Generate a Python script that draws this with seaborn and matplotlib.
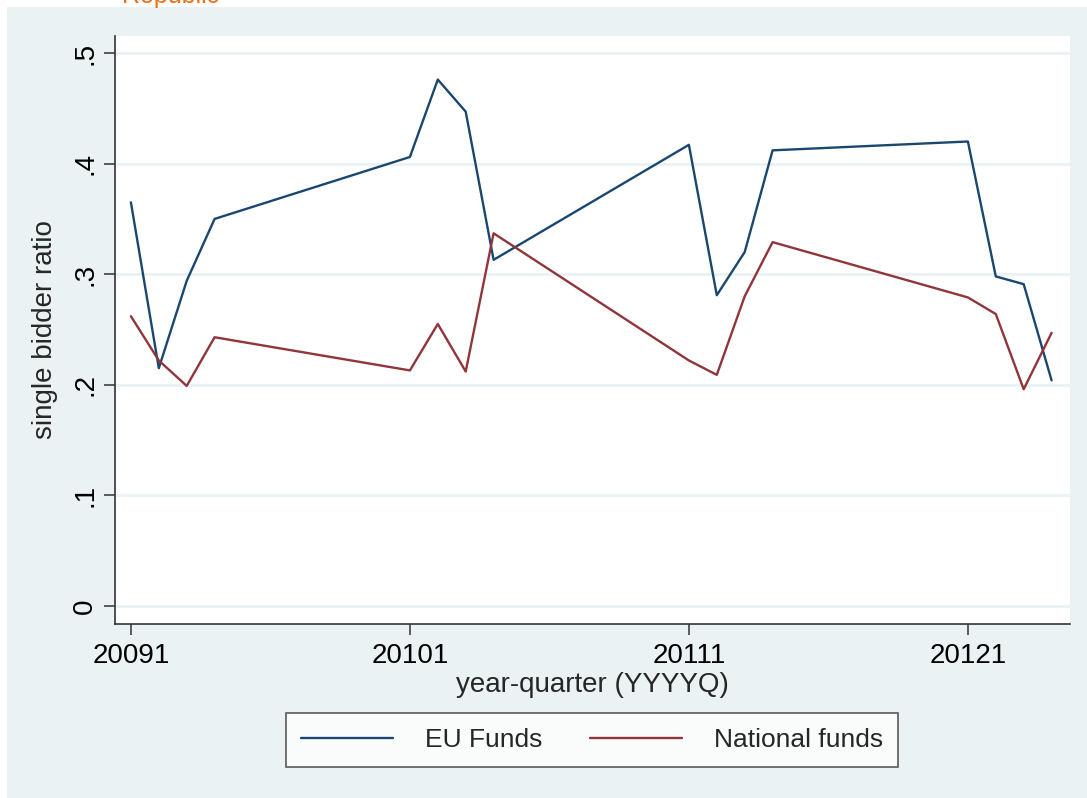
import matplotlib
matplotlib.use("Agg")
import matplotlib.pyplot as plt
import seaborn as sns
import pandas as pd
from matplotlib.patches import Rectangle

quarters = [20091, 20092, 20093, 20094, 20101, 20102, 20103, 20104,
            20111, 20112, 20113, 20114, 20121, 20122, 20123, 20124]
eu_funds = [0.365, 0.215, 0.294, 0.350, 0.406, 0.476, 0.447, 0.313,
            0.417, 0.281, 0.320, 0.412, 0.420, 0.298, 0.291, 0.204]
national_funds = [0.262, 0.222, 0.199, 0.243, 0.213, 0.255, 0.212, 0.337,
                  0.222, 0.209, 0.280, 0.329, 0.279, 0.264, 0.196, 0.247]
x_ticks = [20091, 20101, 20111, 20121]
y_ticks = [0, 0.1, 0.2, 0.3, 0.4, 0.5]
y_ticklabels = ["0", ".1", ".2", ".3", ".4", ".5"]

df = pd.DataFrame({
    "quarter": quarters * 2,
    "ratio": eu_funds + national_funds,
    "series": ["EU Funds"] * len(quarters) + ["National funds"] * len(quarters),
})

sns.set_theme(style="white")
plt.rcParams["font.family"] = ["Liberation Sans", "DejaVu Sans"]

bg = "#EAF2F3"
fig = plt.figure(figsize=(10.87, 7.98), dpi=100, facecolor="white")
fig.patches.append(Rectangle((7 / 1087, 0), 1 - 7 / 1087, 1 - 7 / 798,
                             transform=fig.transFigure, facecolor=bg,
                             edgecolor="none", zorder=-10))
fig.text(122 / 1087, 1 - 3 / 798, "Republic", color="#E8711A", fontsize=18,
         ha="left", va="baseline")

ax = fig.add_axes([115 / 1087, 1 - 624 / 798, (1070 - 115) / 1087, (624 - 36) / 798])
ax.set_facecolor("white")

sns.lineplot(data=df, x="quarter", y="ratio", hue="series",
             palette={"EU Funds": "#1A476F", "National funds": "#90353B"},
             linewidth=1.7, ax=ax, legend=True)

ax.set_xlim(20090.43, 20124.66)
ax.set_ylim(-0.0163, 0.5154)
ax.set_xticks(x_ticks)
ax.set_xticklabels([str(t) for t in x_ticks], fontsize=20)
ax.set_yticks(y_ticks)
ax.set_yticklabels(y_ticklabels, fontsize=20, rotation=90, va="center")
ax.yaxis.grid(True, color=bg, linewidth=2)
ax.xaxis.grid(False)
ax.set_axisbelow(True)

for s in ["top", "right"]:
    ax.spines[s].set_visible(False)
for s in ["left", "bottom"]:
    ax.spines[s].set_color("#333333")
    ax.spines[s].set_linewidth(1.2)
ax.tick_params(axis="x", direction="out", length=8, width=1.1,
               color="#333333", labelcolor="black", pad=6, bottom=True)
ax.tick_params(axis="y", direction="out", length=8, width=1.1,
               color="#333333", labelcolor="black", pad=4, left=True)

ax.set_xlabel("year-quarter (YYYYQ)", fontsize=20, labelpad=2)
ax.set_ylabel("single bidder ratio", fontsize=20, labelpad=10)

handles, labels = ax.get_legend_handles_labels()
ax.legend_.remove()
leg = fig.legend(handles, labels, loc="center",
                 bbox_to_anchor=((288 + 896) / 2 / 1087, 1 - 740 / 798),
                 ncol=2, fontsize=19, frameon=True, fancybox=False,
                 edgecolor="#333333", handlelength=3.5, columnspacing=1.8,
                 handletextpad=1.2, borderpad=0.55)
leg.get_frame().set_linewidth(1.2)
leg.get_frame().set_facecolor("white")

fig.savefig("out.png", dpi=100, facecolor=fig.get_facecolor())
